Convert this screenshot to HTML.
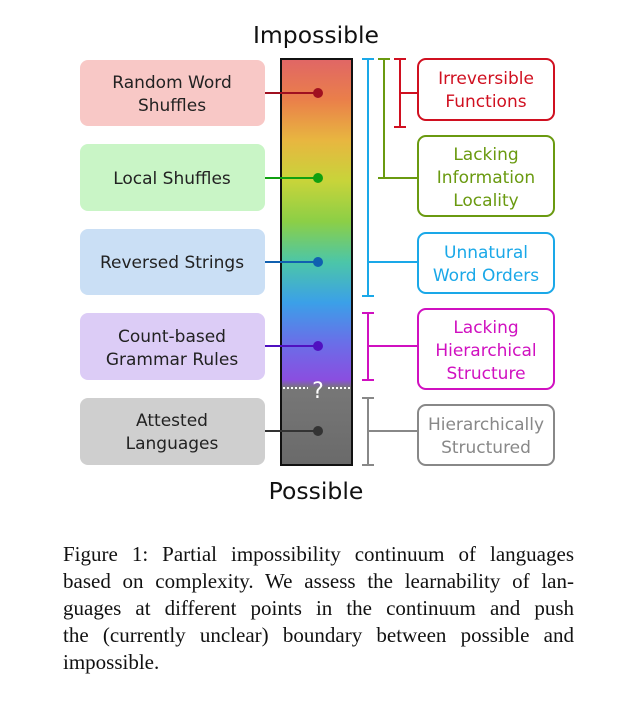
<!DOCTYPE html>
<html><head><meta charset="utf-8"><style>
body{margin:0;background:#fff;width:617px;height:709px;overflow:hidden;position:relative}
svg{position:absolute;left:0;top:0}
.cap{position:absolute;left:63px;top:541px;width:511px;font-family:"Liberation Serif",serif;font-size:21px;line-height:27px;color:#111}
.cap div{text-align:justify;text-align-last:justify;white-space:nowrap}
.cap div.l{text-align-last:left}
</style></head><body>
<svg width="617" height="530" font-family="DejaVu Sans, Liberation Sans, sans-serif">
<defs>
<linearGradient id="g" x1="0" y1="0" x2="0" y2="1">
<stop offset="0" stop-color="#e06666"/>
<stop offset="0.1" stop-color="#ea7f4a"/>
<stop offset="0.2" stop-color="#e8b640"/>
<stop offset="0.3" stop-color="#c8d43a"/>
<stop offset="0.4" stop-color="#8ccf46"/>
<stop offset="0.5" stop-color="#4cc6a8"/>
<stop offset="0.6" stop-color="#3ba0e8"/>
<stop offset="0.7" stop-color="#6a6ee8"/>
<stop offset="0.79" stop-color="#8a4ee0"/>
<stop offset="0.81" stop-color="#777"/>
<stop offset="1" stop-color="#6a6a6a"/>
</linearGradient>
</defs>
<text x="316" y="43" font-size="23.5" text-anchor="middle" fill="#111">Impossible</text>
<text x="316" y="499" font-size="23.5" text-anchor="middle" fill="#111">Possible</text>
<g font-size="17" text-anchor="middle" fill="#222">
<rect x="80" y="60" width="185" height="66" rx="8" fill="#f8c8c6"/>
<text x="172" y="88">Random Word</text><text x="172" y="111">Shuffles</text>
<rect x="80" y="144" width="185" height="67" rx="8" fill="#c9f5c6"/>
<text x="172" y="184">Local Shuffles</text>
<rect x="80" y="229" width="185" height="66" rx="8" fill="#cadff5"/>
<text x="172" y="268">Reversed Strings</text>
<rect x="80" y="313" width="185" height="67" rx="8" fill="#dcccf6"/>
<text x="172" y="342">Count-based</text><text x="172" y="365">Grammar Rules</text>
<rect x="80" y="398" width="185" height="67" rx="8" fill="#cfcfcf"/>
<text x="172" y="426">Attested</text><text x="172" y="449">Languages</text>
</g>
<rect x="281" y="59" width="71" height="406" fill="url(#g)" stroke="#111" stroke-width="2"/>
<line x1="283" y1="388" x2="308" y2="388" stroke="#fff" stroke-width="2" stroke-dasharray="2,2"/>
<line x1="328" y1="388" x2="350" y2="388" stroke="#fff" stroke-width="2" stroke-dasharray="2,2"/>
<text x="318" y="398" font-size="22" text-anchor="middle" fill="#fff">?</text>
<g stroke-width="2">
<line x1="265" y1="93" x2="318" y2="93" stroke="#a01020"/><circle cx="318" cy="93" r="5" fill="#a01020"/>
<line x1="265" y1="178" x2="318" y2="178" stroke="#10a010"/><circle cx="318" cy="178" r="5" fill="#10a010"/>
<line x1="265" y1="262" x2="318" y2="262" stroke="#1060b0"/><circle cx="318" cy="262" r="5" fill="#1060b0"/>
<line x1="265" y1="346" x2="318" y2="346" stroke="#5010c0"/><circle cx="318" cy="346" r="5" fill="#5010c0"/>
<line x1="265" y1="431" x2="318" y2="431" stroke="#333"/><circle cx="318" cy="431" r="5" fill="#333"/>
</g>
<g fill="none" stroke-width="2">
<g stroke="#1aa8e8"><path d="M362 59h12M368 59v237M362 296h12M368 262h50"/></g>
<g stroke="#6a9a10"><path d="M378 59h12M384 59v119M378 178h12M384 178h34"/></g>
<g stroke="#d01020"><path d="M394 59h12M400 59v68M394 127h12M400 93h18"/></g>
<g stroke="#d010c0"><path d="M362 313h12M368 313v67M362 380h12M368 346h50"/></g>
<g stroke="#888"><path d="M362 398h12M368 398v67M362 465h12M368 431h50"/></g>
<rect x="418" y="59" width="136" height="61" rx="8" stroke="#d01020"/>
<rect x="418" y="136" width="136" height="80" rx="8" stroke="#6a9a10"/>
<rect x="418" y="233" width="136" height="60" rx="8" stroke="#1aa8e8"/>
<rect x="418" y="309" width="136" height="80" rx="8" stroke="#d010c0"/>
<rect x="418" y="405" width="136" height="60" rx="8" stroke="#888"/>
</g>
<g font-size="17" text-anchor="middle">
<text x="486" y="84" fill="#d01020">Irreversible</text><text x="486" y="107" fill="#d01020">Functions</text>
<text x="486" y="160" fill="#6a9a10">Lacking</text><text x="486" y="183" fill="#6a9a10">Information</text><text x="486" y="206" fill="#6a9a10">Locality</text>
<text x="486" y="258" fill="#1aa8e8">Unnatural</text><text x="486" y="281" fill="#1aa8e8">Word Orders</text>
<text x="486" y="333" fill="#d010c0">Lacking</text><text x="486" y="356" fill="#d010c0">Hierarchical</text><text x="486" y="379" fill="#d010c0">Structure</text>
<text x="486" y="430" fill="#888">Hierarchically</text><text x="486" y="453" fill="#888">Structured</text>
</g>
</svg>
<div class="cap">
<div>Figure 1: Partial impossibility continuum of languages</div>
<div>based on complexity. We assess the learnability of lan-</div>
<div>guages at different points in the continuum and push</div>
<div>the (currently unclear) boundary between possible and</div>
<div class="l">impossible.</div>
</div>
</body></html>
